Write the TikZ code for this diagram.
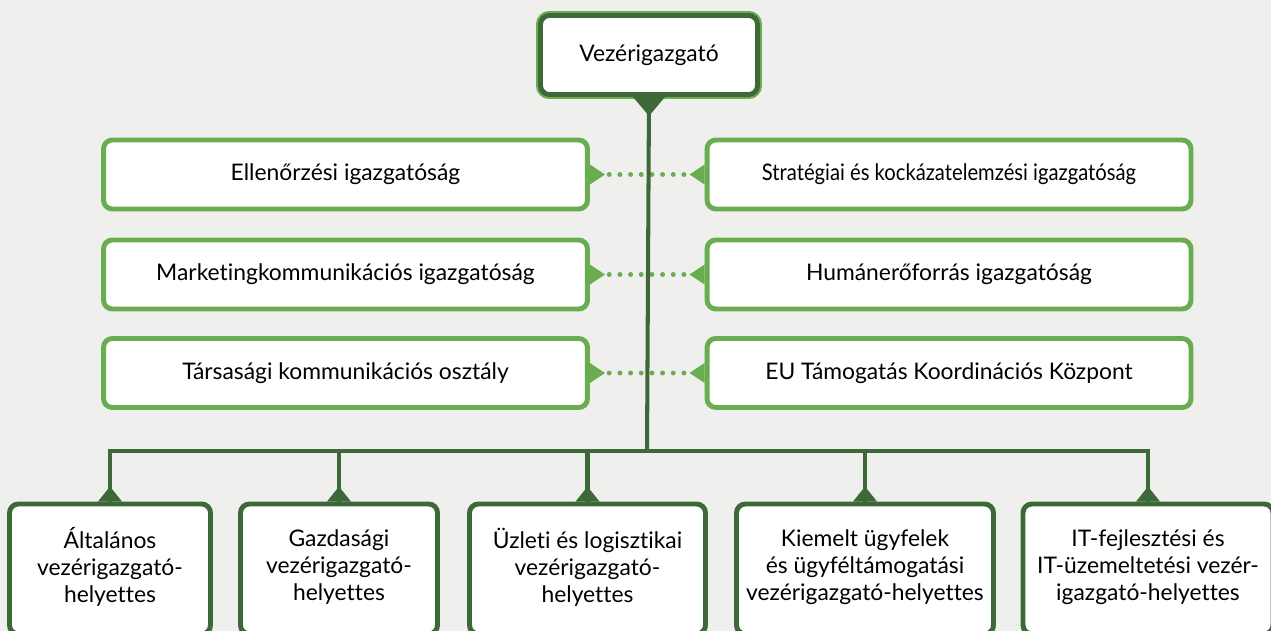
\documentclass[tikz,border=0pt]{standalone}
\usepackage{fontspec}
\setmainfont{Lato}[Ligatures=NoCommon]
\usetikzlibrary{shadows}

\definecolor{dkgreen}{RGB}{61,104,55}
\definecolor{ltgreen}{RGB}{106,172,80}
\definecolor{bggray}{RGB}{239,239,237}

\tikzset{
  txt/.style={font=\fontsize{13}{15.4}\selectfont},
  softshadow/.style={drop shadow={shadow xshift=1.2pt,shadow yshift=-1.2pt,opacity=0.12}},
  ceobox/.style={txt,preaction={draw=ltgreen,line width=5.1pt},
    draw=dkgreen,line width=2.8pt,fill=white,rounded corners=5pt,
    minimum width=4.34cm,minimum height=1.58cm},
  unitbox/.style={txt,softshadow,draw=ltgreen,line width=2.8pt,fill=white,
    rounded corners=5pt,minimum width=9.68cm,minimum height=1.38cm},
  deputybox/.style={txt,softshadow,draw=dkgreen,line width=2.8pt,fill=white,
    rounded corners=5pt,minimum height=2.6cm,align=center,text depth=4.5pt},
  trunk/.style={draw=dkgreen,line width=2.3pt},
  dotline/.style={draw=ltgreen,line width=2.8pt,line cap=round,
    dash pattern=on 0pt off 6.07pt,shorten <=11pt,shorten >=7pt}
}

\begin{document}
\begin{tikzpicture}[x=0.02cm,y=-0.02cm]
\clip (0,0) rectangle (1271,631);
\fill[bggray] (0,0) rectangle (1271,631);

% top
\node[ceobox] (ceo) at (649,55) {Vezérigazgató};

% staff units
\node[unitbox] (ell)   at (345.5,174.5) {Ellenőrzési igazgatóság};
\node[unitbox] (strat) at (949,174.5)
  {\scalebox{0.885}[1]{Stratégiai és kockázatelemzési igazgatóság}};
\node[unitbox] (mark)  at (345.5,274.5) {Marketingkommunikációs igazgatóság};
\node[unitbox] (hum)   at (949,274.5) {Humánerőforrás igazgatóság};
\node[unitbox] (tars)  at (345.5,373) {Társasági kommunikációs osztály};
\node[unitbox] (eu)    at (949,373) {EU Támogatás Koordinációs Központ};

% deputies
\node[deputybox,minimum width=4.02cm] (h1) at (110,569)
  {Általános\\vezérigazgató-\\helyettes};
\node[deputybox,minimum width=3.94cm] (h2) at (339,569)
  {Gazdasági\\vezérigazgató-\\helyettes};
\node[deputybox,minimum width=4.72cm] (h3) at (587.5,569)
  {Üzleti és logisztikai\\vezérigazgató-\\helyettes};
\node[deputybox,minimum width=5.14cm] (h4) at (865,569)
  {Kiemelt ügyfelek\\és ügyféltámogatási\\vezérigazgató-helyettes};
\node[deputybox,minimum width=5.0cm] (h5) at (1148,569)
  {IT-fejlesztési és\\IT-üzemeltetési vezér-\\igazgató-helyettes};

\coordinate (bus) at (647,451);

% dotted links
\foreach \a/\b in {ell/strat,mark/hum,tars/eu}{
  \draw[dotline] (\a.east) -- (\b.west);
  \fill[ltgreen] (\a.east) ++(0,-10) -- ++(0,20) -- ++(15,-10) -- cycle;
  \fill[ltgreen] (\b.west) ++(0,-10) -- ++(0,20) -- ++(-15,-10) -- cycle;
}

% lines
\draw[trunk] (ceo.south) -- (bus);
\draw[trunk] (h1.north) |- (bus) -| (h5.north);
\foreach \n in {h2,h3,h4}
  \draw[trunk] (\n.north) -- (\n.north |- bus);

% pointers
\fill[dkgreen] (ceo.south) ++(-16,0) -- ++(32,0) -- ++(-16,19) -- cycle;
\foreach \n in {h1,h2,h3,h4,h5}
  \fill[dkgreen] (\n.north) ++(-12,0) -- ++(24,0) -- ++(-12,-15) -- cycle;
\end{tikzpicture}
\end{document}
